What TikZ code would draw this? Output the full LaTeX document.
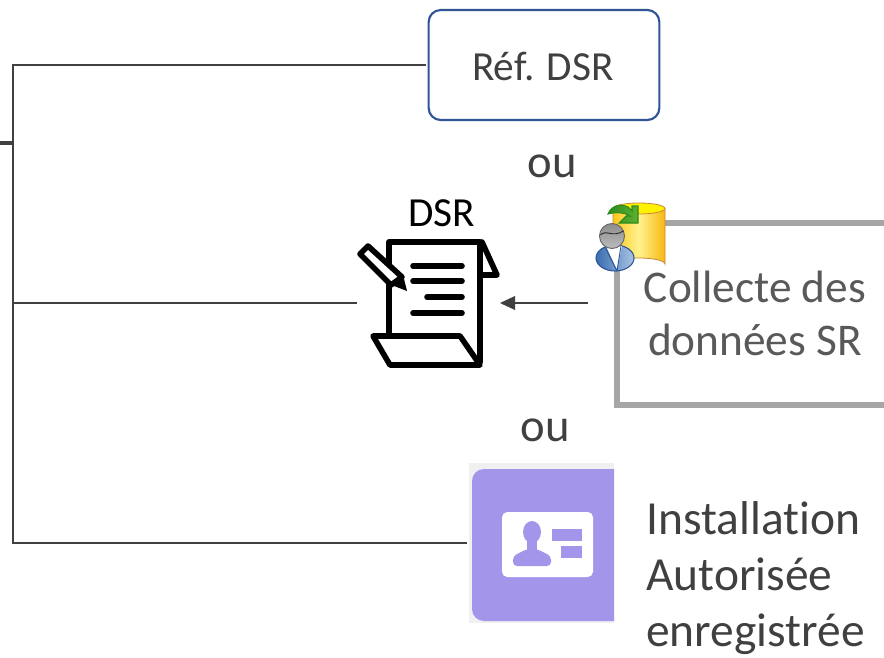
\documentclass[tikz,border=0pt]{standalone}
\usepackage{fontspec}
\setmainfont[Ligatures=CommonOff]{Carlito}
\definecolor{conn}{HTML}{404040}
\definecolor{boxblue}{HTML}{2F5597}
\definecolor{greybox}{HTML}{A6A6A6}
\definecolor{greytxt}{HTML}{595959}
\definecolor{lilac}{HTML}{A395EA}
\definecolor{lilacbg}{HTML}{F0F0F0}
\definecolor{cylo}{HTML}{C8863A}
\definecolor{cyla}{HTML}{FFC61A}
\definecolor{cylb}{HTML}{FFF38F}
\definecolor{cylc}{HTML}{F7B70F}
\definecolor{arrg}{HTML}{2E8B1E}
\definecolor{arrf}{HTML}{5DB030}
\definecolor{bluea}{HTML}{3A6DB0}
\definecolor{blueb}{HTML}{A9C4E4}
\definecolor{heada}{HTML}{8C8C8C}
\definecolor{headb}{HTML}{BDBDBD}
\tikzset{
  conline/.style={draw=conn,line width=2pt},
  reftxt/.style={font=\fontsize{31}{36}\selectfont,text=conn,inner sep=0pt,anchor=base},
  bigtxt/.style={font=\fontsize{34}{40}\selectfont,inner sep=0pt,anchor=base},
  instxt/.style={font=\fontsize{35.6}{40}\selectfont,text=conn,inner sep=0pt,anchor=base west},
  outxt/.style={font=\fontsize{35}{40}\selectfont,text=conn,inner sep=0pt,anchor=base},
  docline/.style={draw=black,line width=4.2pt,line cap=round,line join=round},
  iconbox/.style={inner sep=0pt,outer sep=0pt},
}
\begin{document}
\begin{tikzpicture}[x=0.75pt,y=-0.75pt]
\useasboundingbox (0,0) rectangle (884,657);
% reference box
\node[iconbox,draw=boxblue,line width=1.6pt,rounded corners=9pt,minimum width=173pt,minimum height=82.5pt] (refbox) at (544,65) {};
\node[reftxt] (reft) at (543,80) {Réf. DSR};
\node[outxt] (ou1) at (552,177) {ou};
\node[reftxt,text=black] (dsrt) at (442,226) {DSR};
% grey box
\draw[greybox,line width=4.5pt,line join=miter] (884,223) -- (617,223) -- (617,405) -- (884,405);
\node[bigtxt,text=greytxt] (col1) at (755,302) {Collecte des};
\node[bigtxt,text=greytxt] (col2) at (755,355) {données SR};
\node[outxt] (ou2) at (545,441) {ou};
\node[instxt] (ins1) at (646,534) {Installation};
\node[instxt] (ins2) at (646,590) {Autorisée};
\node[instxt] (ins3) at (646,646) {enregistrée};
% document icon
\node[iconbox,minimum width=105pt,minimum height=93pt] (doc) at (427,303) {};
\draw[docline] (389,334) -- (389,242) -- (480,242) -- (480,362);
\draw[docline] (482,242) -- (497,275) -- (482,275);
\draw[docline] (413,266) -- (462,266);
\draw[docline] (413,281) -- (462,281);
\draw[docline] (427,297) -- (462,297);
\draw[docline] (413,313) -- (462,313);
\draw[docline] (373,336) -- (460,336) -- (480,365) -- (390,365) -- cycle;
\draw[docline,fill=white] (360,254) -- (368,246) -- (402,277) -- (391,285) -- cycle;
\fill[black] (389,284) -- (403,275) -- (407,291) -- cycle;
% cylinder and person
\draw[cylo,line width=.6pt,left color=cyla,right color=cylc,middle color=cylb] (613,208.5) -- (613,264) arc[start angle=180,end angle=360,x radius=26,y radius=6] -- (665,208.5) -- cycle;
\draw[cylo,line width=.6pt,fill=yellow] (639,208.5) ellipse[x radius=26,y radius=5.5];
\draw[arrg,line width=.8pt,left color=arrg,right color=arrf] (608,214) .. controls (611,206) and (620,203) .. (628,207) -- (632,211) -- (632,206) -- (638,206) -- (638,223) -- (619,223) -- (626,216) -- (630,216) .. controls (624,212) and (616,212) .. cycle;
\draw[boxblue,line width=.8pt,left color=bluea,right color=blueb] (615,258) ellipse[x radius=19,y radius=13];
\fill[white] (606,246) -- (622,246) -- (617,270) -- cycle;
\draw[boxblue,line width=.7pt] (605,247) -- (617,271) -- (621,246);
\draw[gray!80!black,line width=.7pt,top color=heada,bottom color=headb] (612,236) circle[radius=12.5];
\draw[gray!35!black,line width=.7pt] (600.5,235) .. controls (606,229) and (612,238) .. (623.5,231);
% lilac card icon
\node[iconbox,fill=lilacbg,minimum width=108.75pt,minimum height=120pt] (card) at (541.5,543) {};
\begin{scope}
\clip (469,463) rectangle (614,623);
\fill[lilac,rounded corners=9pt] (472,469) rectangle (640,621);
\end{scope}
\fill[white,rounded corners=4pt] (502,512) rectangle (593,577);
\fill[lilac] (532,532) ellipse[x radius=9,y radius=11];
\fill[lilac] (527,538) rectangle (537,552);
\fill[lilac,rounded corners=3pt] (513,566) -- (513,556) -- (527,549) -- (537,549) -- (551,556) -- (551,566) -- cycle;
\fill[lilac] (552,529) rectangle (582,541);
\fill[lilac] (561,546) rectangle (582,558);
% connectors
\coordinate (stub) at (0,143);
\coordinate (trunktop) at (13,65);
\coordinate (trunkmid) at (13,143);
\coordinate (trunkdoc) at (13,303);
\coordinate (trunkbot) at (13,543);
\coordinate (collecte) at (588,303);
\coordinate (docright) at (500,303);
\draw[conline,line join=miter] (refbox.west) ++(-3,0) -- (trunktop) -- (trunkbot) -- ([xshift=-1.5pt]card.west);
\draw[conline,line width=2.6pt] (stub) -- (trunkmid);
\draw[conline,line width=1.6pt] (trunkdoc) -- (doc.west);
\draw[conline,line width=1.6pt] (collecte) -- (511,303);
\fill[conn] (docright) -- (515,296) -- (515,310) -- cycle;
\end{tikzpicture}
\end{document}
